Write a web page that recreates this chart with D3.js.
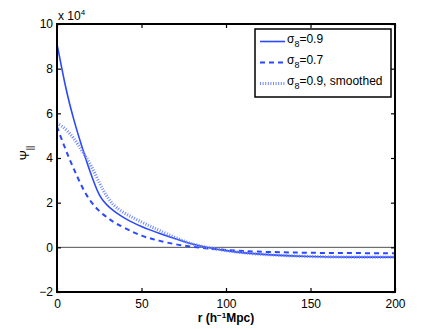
<!DOCTYPE html>
<html>
<head>
<meta charset="utf-8">
<script src="https://cdn.jsdelivr.net/npm/d3@7"></script>
<style>
  body { margin: 0; background: #fff; }
  text { font-family: "Liberation Sans", Arial, sans-serif; }
</style>
</head>
<body>
<div id="chart"></div>
<script>
// r grid (h^-1 Mpc) and curves in units of 1e4
const rGrid = [0, 2.5, 5, 7.5, 10, 12.5, 15, 17.5, 20, 22.5, 25, 27.5, 30, 32.5, 35, 40, 45, 50, 55, 60, 70, 80, 90, 100, 110, 125, 150, 175, 200];
const sigma09 = [9.1, 8.15, 7.2, 6.4, 5.7, 5.05, 4.45, 3.85, 3.3, 2.78, 2.33, 2.06, 1.86, 1.69, 1.55, 1.3, 1.1, 0.93, 0.78, 0.64, 0.38, 0.14, -0.03, -0.15, -0.25, -0.34, -0.42, -0.44, -0.44];
const sigma07 = [5.4, 4.88, 4.4, 3.93, 3.5, 3.08, 2.68, 2.33, 2.05, 1.82, 1.63, 1.46, 1.32, 1.18, 1.06, 0.87, 0.68, 0.52, 0.4, 0.3, 0.13, 0.02, -0.06, -0.12, -0.17, -0.21, -0.25, -0.26, -0.26];
const sigma09s = [5.55, 5.45, 5.3, 5.1, 4.88, 4.6, 4.3, 4.0, 3.68, 3.3, 2.9, 2.53, 2.22, 1.97, 1.78, 1.52, 1.33, 1.13, 0.95, 0.78, 0.42, 0.14, -0.03, -0.15, -0.25, -0.34, -0.42, -0.44, -0.44];
const xTicks = [0, 50, 100, 150, 200];
const yTicks = [-2, 0, 2, 4, 6, 8, 10];
const legendLabels = ["=0.9", "=0.7", "=0.9, smoothed"];

const WIDTH = 436, HEIGHT = 329;
const margin = { left: 57, right: 41, top: 24, bottom: 37 };
const plotW = WIDTH - margin.left - margin.right;
const plotH = HEIGHT - margin.top - margin.bottom;

const svg = d3.select("#chart").append("svg")
    .attr("width", WIDTH)
    .attr("height", HEIGHT);

const g = svg.append("g")
    .attr("transform", "translate(" + margin.left + "," + margin.top + ")");

const x = d3.scaleLinear().domain([0, 200]).range([0, plotW]);
const y = d3.scaleLinear().domain([-2, 10]).range([plotH, 0]);

// zero line
g.append("line")
    .attr("x1", 0).attr("x2", plotW)
    .attr("y1", y(0)).attr("y2", y(0))
    .attr("stroke", "#222").attr("stroke-width", 0.8);

const series = [
    { vals: sigma09, color: "#2a48ff", width: 1.6, dash: null },
    { vals: sigma07, color: "#2a48ff", width: 2, dash: "5,4" },
    { vals: sigma09s, color: "#6f86ff", width: 3.2, dash: "1,1.6" }
];

const line = d3.line()
    .x(d => x(d[0]))
    .y(d => y(d[1]))
    .curve(d3.curveBasis);

series.forEach(s => {
    g.append("path")
        .datum(rGrid.map((r, i) => [r, s.vals[i]]))
        .attr("fill", "none")
        .attr("stroke", s.color)
        .attr("stroke-width", s.width)
        .attr("stroke-dasharray", s.dash)
        .attr("d", line);
});

// axes with inward ticks on all sides
const tickLen = 4;
const axisStyle = sel => {
    sel.select(".domain").remove();
    sel.selectAll("line").attr("stroke", "#000").attr("stroke-width", 1.2);
    sel.selectAll("text").attr("fill", "#000").style("font-size", "12px");
};
g.append("g").attr("transform", "translate(0," + plotH + ")")
    .call(d3.axisBottom(x).tickValues(xTicks).tickSizeInner(-tickLen).tickSizeOuter(0).tickPadding(7))
    .call(axisStyle);
g.append("g")
    .call(d3.axisTop(x).tickValues(xTicks).tickSizeInner(-tickLen).tickSizeOuter(0).tickFormat(""))
    .call(axisStyle);
g.append("g")
    .call(d3.axisLeft(y).tickValues(yTicks).tickSizeInner(-tickLen).tickSizeOuter(0).tickPadding(4)
        .tickFormat(d => d < 0 ? "\u2212" + Math.abs(d) : d))
    .call(axisStyle);
g.append("g").attr("transform", "translate(" + plotW + ",0)")
    .call(d3.axisRight(y).tickValues(yTicks).tickSizeInner(-tickLen).tickSizeOuter(0).tickFormat(""))
    .call(axisStyle);

// frame
g.append("rect")
    .attr("width", plotW).attr("height", plotH)
    .attr("fill", "none").attr("stroke", "#000").attr("stroke-width", 2);

// exponent label
const expo = svg.append("text").attr("x", margin.left + 1).attr("y", 20)
    .style("font-size", "12px");
expo.append("tspan").text("x 10");
expo.append("tspan").attr("dy", -5).style("font-size", "8px").text("4");

// x label
const xl = svg.append("text")
    .attr("x", margin.left + plotW / 2).attr("y", 322)
    .attr("text-anchor", "middle")
    .style("font-size", "12px").style("font-weight", "bold");
xl.append("tspan").text("r (h");
xl.append("tspan").attr("dy", -4).style("font-size", "8px").text("\u22121");
xl.append("tspan").attr("dy", 4).text("Mpc)");

// y label
const yl = svg.append("text")
    .attr("transform", "translate(29," + (margin.top + plotH / 2 - 5) + ") rotate(-90)")
    .attr("text-anchor", "middle")
    .style("font-size", "12px");
yl.append("tspan").text("\u03A8");
yl.append("tspan").attr("dy", 4).style("font-size", "9px").text("||");

// legend
const lg = svg.append("g").attr("transform", "translate(255,29)");
lg.append("rect")
    .attr("width", 136).attr("height", 68)
    .attr("fill", "#fff").attr("stroke", "#000").attr("stroke-width", 1.5);
series.forEach((s, i) => {
    const ly = 12.5 + i * 21;
    lg.append("line")
        .attr("x1", 5).attr("x2", 30)
        .attr("y1", ly).attr("y2", ly)
        .attr("stroke", s.color)
        .attr("stroke-width", s.width)
        .attr("stroke-dasharray", s.dash);
    const t = lg.append("text").attr("x", 32).attr("y", ly + 1).style("font-size", "12px");
    t.append("tspan").text("\u03C3");
    t.append("tspan").attr("dy", 4).style("font-size", "9px").text("8");
    t.append("tspan").attr("dy", -4).text(legendLabels[i]);
});
</script>
</body>
</html>
